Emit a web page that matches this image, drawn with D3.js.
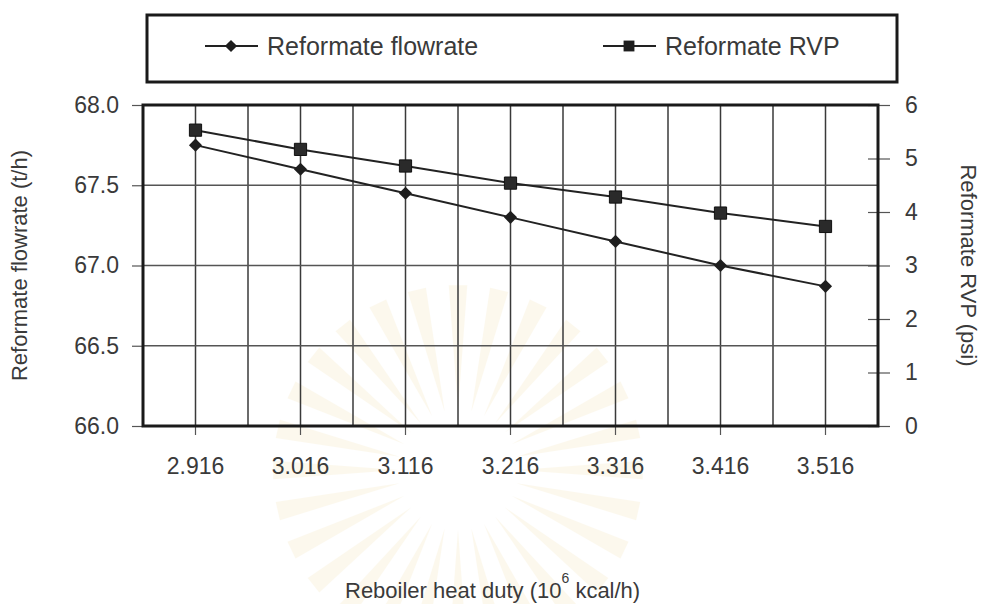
<!DOCTYPE html>
<html>
<head>
<meta charset="utf-8">
<script src="https://cdn.jsdelivr.net/npm/d3@7"></script>
<style>
  body { margin: 0; background: #fff; }
  text { font-family: "Liberation Sans", Arial, sans-serif; fill: #3a3a3a; }
</style>
</head>
<body>
<div id="chart"></div>
<script>
// data
const categories = ["2.916", "3.016", "3.116", "3.216", "3.316", "3.416", "3.516"];
const flowrate = [67.75, 67.60, 67.45, 67.30, 67.15, 67.00, 66.87];
const rvp = [5.53, 5.17, 4.86, 4.54, 4.28, 3.98, 3.73];
const leftTicks = [66.0, 66.5, 67.0, 67.5, 68.0];
const rightTicks = [0, 1, 2, 3, 4, 5, 6];
const seriesNames = ["Reformate flowrate", "Reformate RVP"];

const W = 983, H = 604;
const plot = { left: 143, right: 878, top: 105, bottom: 426 };

const svg = d3.select("#chart")
    .append("svg")
    .attr("width", W)
    .attr("height", H);

// faint watermark rays behind the chart
const wm = svg.append("g")
    .attr("transform", "translate(458,470)")
    .attr("opacity", 0.1);
d3.range(28).forEach(i => {
    const a = (i / 28) * Math.PI * 2;
    const a1 = a - 0.05, a2 = a + 0.05;
    const r0 = 60, r1 = 185;
    wm.append("path")
        .attr("d", `M${r0 * Math.cos(a)},${r0 * Math.sin(a)} L${r1 * Math.cos(a1)},${r1 * Math.sin(a1)} L${r1 * Math.cos(a2)},${r1 * Math.sin(a2)}Z`)
        .attr("fill", "#e9c35a");
});

// scales
const x = d3.scaleBand()
    .domain(categories)
    .range([plot.left, plot.right]);

const yL = d3.scaleLinear()
    .domain([66, 68])
    .range([plot.bottom, plot.top]);

const yR = d3.scaleLinear()
    .domain([0, 6])
    .range([plot.bottom, plot.top]);

const cx = d => x(d) + x.bandwidth() / 2;

// vertical grid: category centres and band boundaries
const vLines = [];
categories.forEach((c, i) => {
    if (i > 0) vLines.push(x(c));
    vLines.push(cx(c));
});

svg.append("g")
    .selectAll("line")
    .data(vLines)
    .join("line")
    .attr("x1", d => d).attr("x2", d => d)
    .attr("y1", plot.top).attr("y2", plot.bottom)
    .attr("stroke", "#3a3a3a")
    .attr("stroke-width", 1.5);

// horizontal grid at left axis ticks
svg.append("g")
    .selectAll("line")
    .data(leftTicks.slice(1, -1))
    .join("line")
    .attr("x1", plot.left).attr("x2", plot.right)
    .attr("y1", d => yL(d)).attr("y2", d => yL(d))
    .attr("stroke", "#555")
    .attr("stroke-width", 1.3);

// left axis
const gL = svg.append("g")
    .attr("transform", `translate(${plot.left},0)`)
    .call(d3.axisLeft(yL).tickValues(leftTicks).tickFormat(d3.format(".1f")).tickSize(11).tickPadding(13));
gL.select(".domain").remove();
gL.selectAll("line").attr("stroke", "#555").attr("stroke-width", 1.2);
gL.selectAll("text").attr("font-size", 23).attr("fill", "#3a3a3a").attr("font-family", null);

// right axis
const gR = svg.append("g")
    .attr("transform", `translate(${plot.right - 10},0)`)
    .call(d3.axisRight(yR).tickValues(rightTicks).tickFormat(d3.format("d")).tickSize(22).tickPadding(15));
gR.select(".domain").remove();
gR.selectAll("line").attr("stroke", "#555").attr("stroke-width", 1.2);
gR.selectAll("text").attr("font-size", 23).attr("fill", "#3a3a3a").attr("font-family", null);

// bottom axis
const gB = svg.append("g")
    .attr("transform", `translate(0,${plot.bottom})`)
    .call(d3.axisBottom(x).tickSize(9).tickPadding(23));
gB.select(".domain").remove();
gB.selectAll("line").attr("stroke", "#555").attr("stroke-width", 1.2);
gB.selectAll("text").attr("font-size", 23).attr("fill", "#3a3a3a").attr("font-family", null);

// plot border
svg.append("rect")
    .attr("x", plot.left).attr("y", plot.top)
    .attr("width", plot.right - plot.left)
    .attr("height", plot.bottom - plot.top)
    .attr("fill", "none")
    .attr("stroke", "#1a1a1a")
    .attr("stroke-width", 3);

// series lines
const lineL = d3.line().x((d, i) => cx(categories[i])).y(d => yL(d));
const lineR = d3.line().x((d, i) => cx(categories[i])).y(d => yR(d));

svg.append("path")
    .datum(flowrate)
    .attr("fill", "none")
    .attr("stroke", "#222")
    .attr("stroke-width", 2)
    .attr("d", lineL);

svg.append("path")
    .datum(rvp)
    .attr("fill", "none")
    .attr("stroke", "#222")
    .attr("stroke-width", 2)
    .attr("d", lineR);

const diamond = d3.symbol().type(d3.symbolDiamond2).size(110);
const square = d3.symbol().type(d3.symbolSquare2).size(190);

svg.append("g")
    .selectAll("path")
    .data(flowrate)
    .join("path")
    .attr("transform", (d, i) => `translate(${cx(categories[i])},${yL(d)})`)
    .attr("d", diamond)
    .attr("fill", "#1e1e1e");

svg.append("g")
    .selectAll("path")
    .data(rvp)
    .join("path")
    .attr("transform", (d, i) => `translate(${cx(categories[i])},${yR(d)})`)
    .attr("d", square)
    .attr("fill", "#2a2a2a")
    .attr("stroke", "#111")
    .attr("stroke-width", 1);

// axis titles
svg.append("text")
    .attr("transform", `translate(27,${(plot.top + plot.bottom) / 2}) rotate(-90)`)
    .attr("text-anchor", "middle")
    .attr("font-size", 22)
    .text("Reformate flowrate (t/h)");

svg.append("text")
    .attr("transform", `translate(961,${(plot.top + plot.bottom) / 2}) rotate(90)`)
    .attr("text-anchor", "middle")
    .attr("font-size", 22)
    .text("Reformate RVP (psi)");

const xt = svg.append("text")
    .attr("x", 345)
    .attr("y", 598)
    .attr("font-size", 22);
xt.append("tspan").text("Reboiler heat duty (10");
xt.append("tspan").attr("dy", -15).attr("font-size", 14).text("6");
xt.append("tspan").attr("dy", 15).text(" kcal/h)");

// legend
svg.append("rect")
    .attr("x", 147).attr("y", 15)
    .attr("width", 750).attr("height", 67)
    .attr("fill", "#fff")
    .attr("stroke", "#1a1a1a")
    .attr("stroke-width", 3);

const legendItems = [
    { name: seriesNames[0], x: 205, sym: d3.symbol().type(d3.symbolDiamond2).size(95) },
    { name: seriesNames[1], x: 603, sym: d3.symbol().type(d3.symbolSquare2).size(150) }
];

const lg = svg.append("g")
    .selectAll("g")
    .data(legendItems)
    .join("g")
    .attr("transform", d => `translate(${d.x},46)`);

lg.append("line")
    .attr("x1", 0).attr("x2", 53)
    .attr("stroke", "#222")
    .attr("stroke-width", 2);

lg.append("path")
    .attr("transform", "translate(26,0)")
    .attr("d", d => d.sym())
    .attr("fill", "#1e1e1e");

lg.append("text")
    .attr("x", 62)
    .attr("dy", "0.35em")
    .attr("font-size", 25)
    .text(d => d.name);
</script>
</body>
</html>
